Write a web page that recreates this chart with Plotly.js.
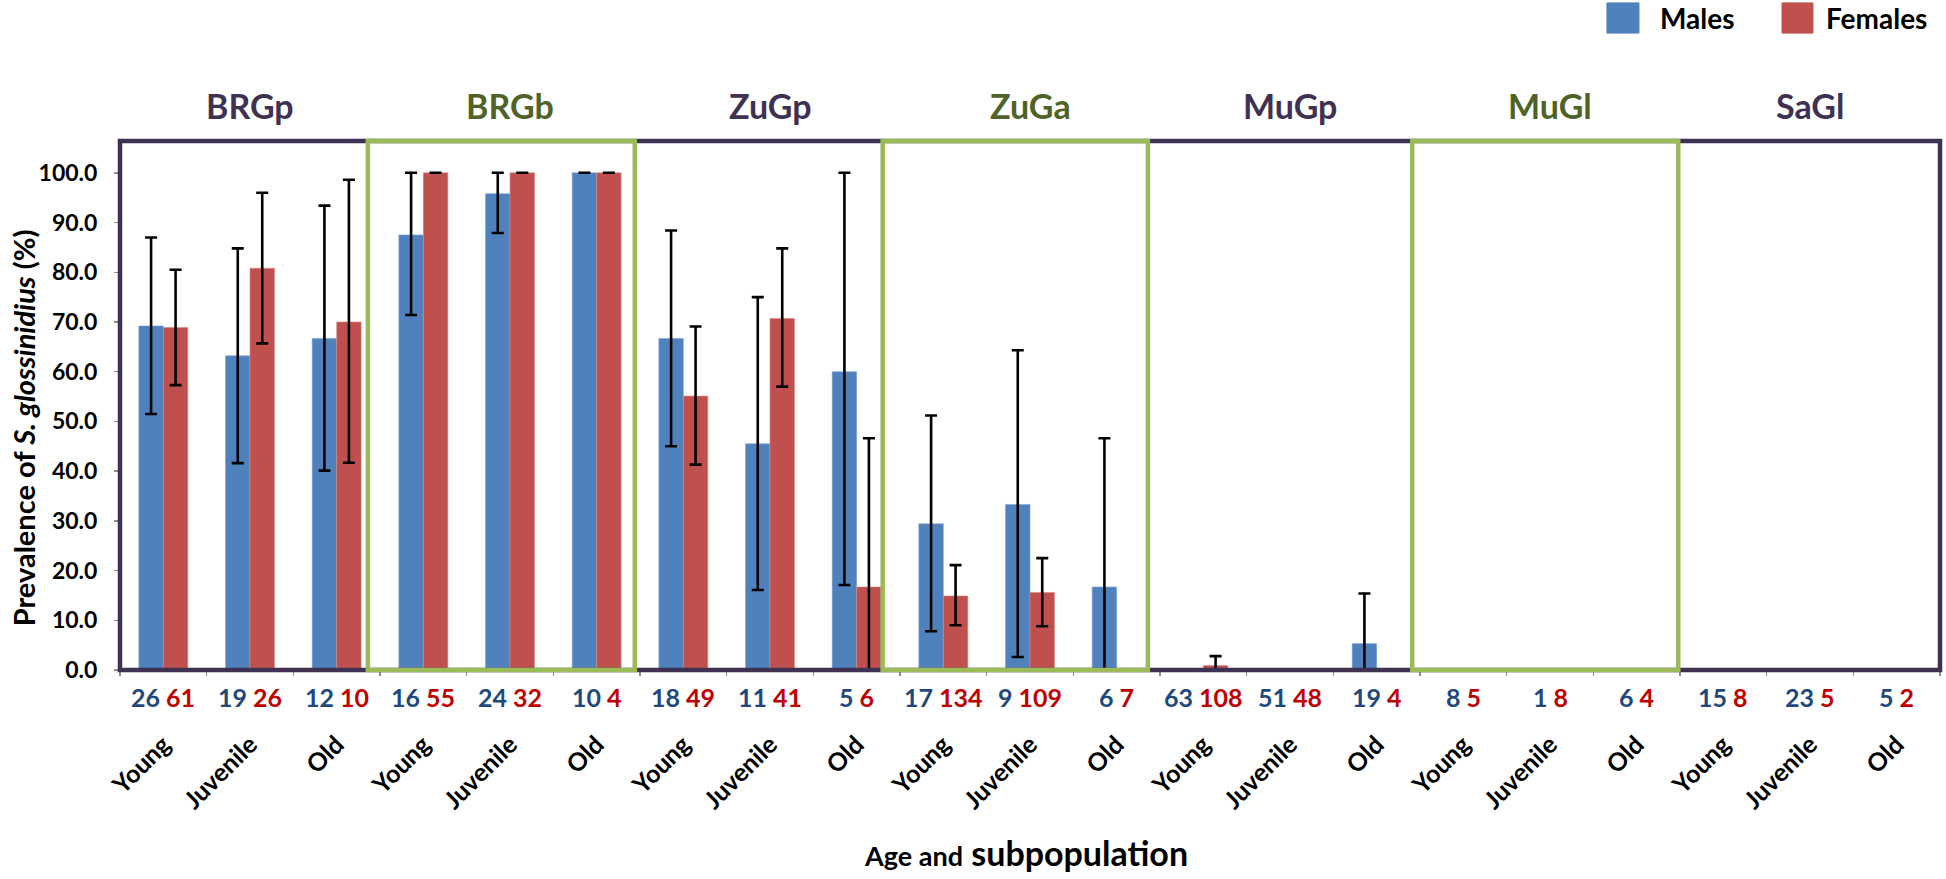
<!DOCTYPE html>
<html>
<head>
<meta charset="utf-8">
<script src="https://cdn.plot.ly/plotly-3.0.1.min.js"></script>
<style>
  html, body { margin: 0; padding: 0; background: #ffffff; }
  #chart { width: 1946px; height: 879px; }
</style>
</head>
<body>
<div id="chart"></div>
<script>
// ---------- DATA ----------
const groups = ['BRGp', 'BRGb', 'ZuGp', 'ZuGa', 'MuGp', 'MuGl', 'SaGl'];
const ageClasses = ['Young', 'Juvenile', 'Old'];

// prevalence (%) of S. glossinidius, one value per group x age (21 entries)
const maleValues   = [69.2, 63.2, 66.7,  87.5, 95.8, 100,  66.7, 45.5, 60.0,  29.4, 33.3, 16.7,  0, 0, 5.3,  0, 0, 0,  0, 0, 0];
const maleLower    = [51.5, 41.6, 40.1,  71.4, 87.9, 100,  45.0, 16.1, 17.1,   7.8,  2.6,  0,    null, null, 0,  null, null, null,  null, null, null];
const maleUpper    = [87.0, 84.8, 93.4,  100,  100,  100,  88.4, 75.0, 100,   51.2, 64.3, 46.6,  null, null, 15.4,  null, null, null,  null, null, null];

const femaleValues = [68.9, 80.8, 70.0,  100, 100, 100,  55.1, 70.7, 16.7,  14.9, 15.6, 0,  0.9, 0, 0,  0, 0, 0,  0, 0, 0];
const femaleLower  = [57.3, 65.7, 41.7,  100, 100, 100,  41.3, 57.0, 0,      9.0,  8.8, null,  0, null, null,  null, null, null,  null, null, null];
const femaleUpper  = [80.5, 96.0, 98.6,  100, 100, 100,  69.1, 84.8, 46.6,  21.1, 22.5, null,  2.8, null, null,  null, null, null,  null, null, null];

// sample sizes shown under each category
const maleN   = [26, 19, 12,  16, 24, 10,  18, 11, 5,  17, 9, 6,  63, 51, 19,  8, 1, 6,  15, 23, 5];
const femaleN = [61, 26, 10,  55, 32, 4,   49, 41, 6,  134, 109, 7,  108, 48, 4,  5, 8, 4,  8, 5, 2];

// ---------- BUILD ----------
const categories = [];
groups.forEach(g => ageClasses.forEach(a => categories.push(a)));
const xPos = categories.map((_, i) => i);

function errPlus(vals, up)  { return vals.map((v, i) => up[i] === null ? NaN : Math.max(0, up[i] - v)); }
function errMinus(vals, lo) { return vals.map((v, i) => lo[i] === null ? NaN : Math.max(0, v - lo[i])); }

const FONT = 'Lato, "Open Sans", "DejaVu Sans", sans-serif';
const BLUE = '#4F81BD', RED = '#C0504D';
const PURPLE = '#3F3151', GREEN = '#9BBB59', GREEN_TXT = '#4F6228';

const errStyle = { type: 'data', symmetric: false, color: '#000000', thickness: 2.6, width: 6, visible: true };

const traces = [
  {
    type: 'bar', name: 'Males', x: xPos, y: maleValues,
    marker: { color: BLUE, line: { color: '#7FA3D3', width: 0.6 } },
    error_y: Object.assign({}, errStyle, { array: errPlus(maleValues, maleUpper), arrayminus: errMinus(maleValues, maleLower) }),
    showlegend: false, hoverinfo: 'y'
  },
  {
    type: 'bar', name: 'Females', x: xPos, y: femaleValues,
    marker: { color: RED, line: { color: '#D88A88', width: 0.6 } },
    error_y: Object.assign({}, errStyle, { array: errPlus(femaleValues, femaleUpper), arrayminus: errMinus(femaleValues, femaleLower) }),
    showlegend: false, hoverinfo: 'y'
  }
];

const annotations = [];
const shapes = [];

// frame (dark purple)
shapes.push({ type: 'rect', xref: 'paper', yref: 'paper', x0: 0, x1: 1, y0: 0, y1: 1,
  line: { color: PURPLE, width: 4.5 }, fillcolor: 'rgba(0,0,0,0)', layer: 'above' });

// green highlight boxes for alternate subpopulations
const greenBoxes = [[2.36, 5.44], [8.30, 11.36], [14.41, 17.48]];
greenBoxes.forEach(b => shapes.push({ type: 'rect', xref: 'x', yref: 'paper', x0: b[0], x1: b[1], y0: 0, y1: 1,
  line: { color: GREEN, width: 4.5 }, fillcolor: 'rgba(0,0,0,0)', layer: 'above' }));

// group titles
groups.forEach((g, gi) => {
  annotations.push({ xref: 'x', yref: 'paper', x: gi * 3 + 1, y: 1, yshift: 36, yanchor: 'middle', xanchor: 'center',
    text: g, showarrow: false,
    font: { family: FONT, size: 34, weight: 'bold', color: gi % 2 === 1 ? GREEN_TXT : PURPLE } });
});

// sample-size labels
categories.forEach((c, i) => {
  annotations.push({ xref: 'x', yref: 'paper', x: i, y: 0, yshift: -27, yanchor: 'middle', xanchor: 'center',
    text: '<span style="color:#1F497D">' + maleN[i] + '</span> <span style="color:#C00000">' + femaleN[i] + '</span>',
    showarrow: false, font: { family: FONT, size: 25, weight: 'bold' } });
});

// y-axis title
annotations.push({ xref: 'paper', yref: 'paper', x: 0, xshift: -97, y: 0.457, xanchor: 'center', yanchor: 'middle',
  textangle: -90, showarrow: false,
  text: 'Prevalence of <i>S. glossinidius</i> (%)',
  font: { family: FONT, size: 29, weight: 'bold', color: '#000000' } });

// x-axis title (mixed sizes)
annotations.push({ xref: 'paper', yref: 'paper', x: 0.498, y: 0, yshift: -182, yanchor: 'middle', xanchor: 'center',
  text: '<span style="font-size:27px">Age and</span> <span style="font-size:34px">subpopulation</span>',
  showarrow: false, font: { family: FONT, size: 34, weight: 'bold', color: '#000000' } });

// custom legend (big squares)
const legendItems = [
  { name: 'Males', color: BLUE, x0: 0.8170, x1: 0.8346, tx: 0.8450 },
  { name: 'Females', color: RED, x0: 0.9132, x1: 0.9302, tx: 0.9365 }
];
legendItems.forEach(it => {
  shapes.push({ type: 'rect', xref: 'paper', yref: 'paper', x0: it.x0, x1: it.x1, y0: 1.204, y1: 1.261,
    fillcolor: it.color, line: { color: it.color, width: 1 } });
  annotations.push({ xref: 'paper', yref: 'paper', x: it.tx, y: 1.233, xanchor: 'left', yanchor: 'middle',
    text: it.name, showarrow: false, font: { family: FONT, size: 28, weight: 'bold', color: '#000000' } });
});

const boundaries = [];
for (let i = 0; i <= categories.length; i++) boundaries.push(i - 0.5);

const layout = {
  width: 1946, height: 879,
  margin: { l: 120, r: 6, t: 141, b: 209, pad: 0 },
  paper_bgcolor: '#ffffff', plot_bgcolor: '#ffffff',
  barmode: 'group', bargap: 0.435, bargroupgap: 0,
  showlegend: false,
  font: { family: FONT, color: '#000000' },
  xaxis: {
    type: 'linear', range: [-0.5, categories.length - 0.5],
    tickmode: 'array', tickvals: xPos, ticktext: categories,
    tickangle: -45, ticks: '', ticklabelstandoff: 54,
    tickfont: { family: FONT, size: 25, weight: 'bold', color: '#000000' },
    minor: { tickmode: 'array', tickvals: boundaries, ticks: 'outside', ticklen: 5, tickcolor: '#8c8c8c', tickwidth: 1.5, showgrid: false },
    showgrid: false, zeroline: false, showline: false, fixedrange: true
  },
  yaxis: {
    range: [0, 106.4], tick0: 0, dtick: 10, tickformat: '.1f',
    ticks: 'outside', ticklen: 5, tickcolor: '#8c8c8c', tickwidth: 1.5, ticklabelstandoff: 12,
    tickfont: { family: FONT, size: 23, weight: 'bold', color: '#000000' },
    showgrid: false, zeroline: false, showline: false, fixedrange: true
  },
  shapes: shapes,
  annotations: annotations
};

Plotly.newPlot('chart', traces, layout, { displayModeBar: false, staticPlot: true });
</script>
</body>
</html>
